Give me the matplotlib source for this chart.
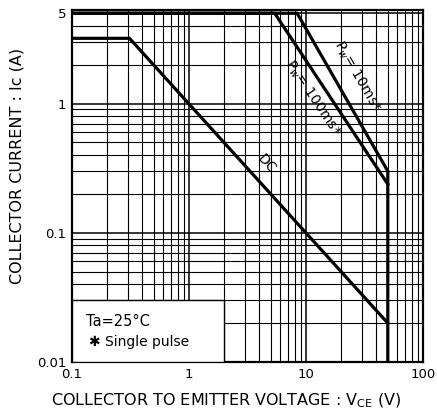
import numpy as np
from matplotlib import pyplot as plt
from matplotlib.patches import Rectangle

# safe operating area curves
dc_v = [0.1, 0.31, 50]
dc_i = [3.2, 3.2, 0.02]
pw10_v = [0.1, 8.4, 50, 50]
pw10_i = [5, 5, 0.3, 0.01]
pw100_v = [0.1, 5.4, 50]
pw100_i = [5, 5, 0.238]

x_ticks = [0.1, 1, 10, 100]
x_labels = ['0.1', '1', '10', '100']
y_ticks = [0.01, 0.1, 1, 5]
y_labels = ['0.01', '0.1', '1', '5']

plt.rcParams['font.family'] = 'DejaVu Sans'

fig = plt.figure(figsize=(4.37, 4.18), dpi=100)
ax = fig.add_axes([72/437, 56/418, 351/437, 352/418])
ax.set_xscale('log')
ax.set_yscale('log')
ax.set_xlim(0.1, 100)
ax.set_ylim(0.01, 5.3)

ax.grid(True, which='major', color='black', linewidth=1.1)
ax.grid(True, which='minor', color='black', linewidth=0.8)
ax.set_axisbelow(True)

lw = 2.3
ax.plot(dc_v, dc_i, color='black', linewidth=lw, zorder=4)
ax.plot(pw10_v, pw10_i, color='black', linewidth=lw, zorder=4)
ax.plot(pw100_v, pw100_i, color='black', linewidth=lw, zorder=4)

# blank box for the conditions note
ax.add_patch(Rectangle((0.1, 0.01), 1.9, 0.02, facecolor='white',
                       edgecolor='black', linewidth=1.0, zorder=3))
ax.text(0.132, 0.0205, 'Ta=25°C', fontsize=10.5, va='center', zorder=5)
ax.text(0.14, 0.0143, '✱ Single pulse', fontsize=10, va='center', zorder=5)

ax.text(27.5, 1.62, 'P$_w$= 10ms*', fontsize=10, rotation=-60,
        ha='center', va='center', zorder=5)
ax.text(11.3, 1.1, 'P$_w$= 100ms*', fontsize=10, rotation=-56,
        ha='center', va='center', zorder=5)
ax.text(4.6, 0.34, 'DC', fontsize=10, rotation=-48,
        ha='center', va='center', zorder=5)

ax.set_xticks(x_ticks)
ax.set_xticklabels(x_labels)
ax.set_yticks(y_ticks)
ax.set_yticklabels(y_labels)
ax.tick_params(which='both', length=0, labelsize=9.5, pad=4)

for s in ax.spines.values():
    s.set_linewidth(1.6)

ax.set_xlabel('COLLECTOR TO EMITTER VOLTAGE : V$_{\\rm CE}$ (V)', fontsize=11.5)
ax.xaxis.set_label_coords(0.44, -0.085)
ax.set_ylabel('COLLECTOR CURRENT : Ic (A)', fontsize=11.5)
ax.yaxis.set_label_coords(-0.134, 0.557)

fig.savefig('out.png', dpi=100)
